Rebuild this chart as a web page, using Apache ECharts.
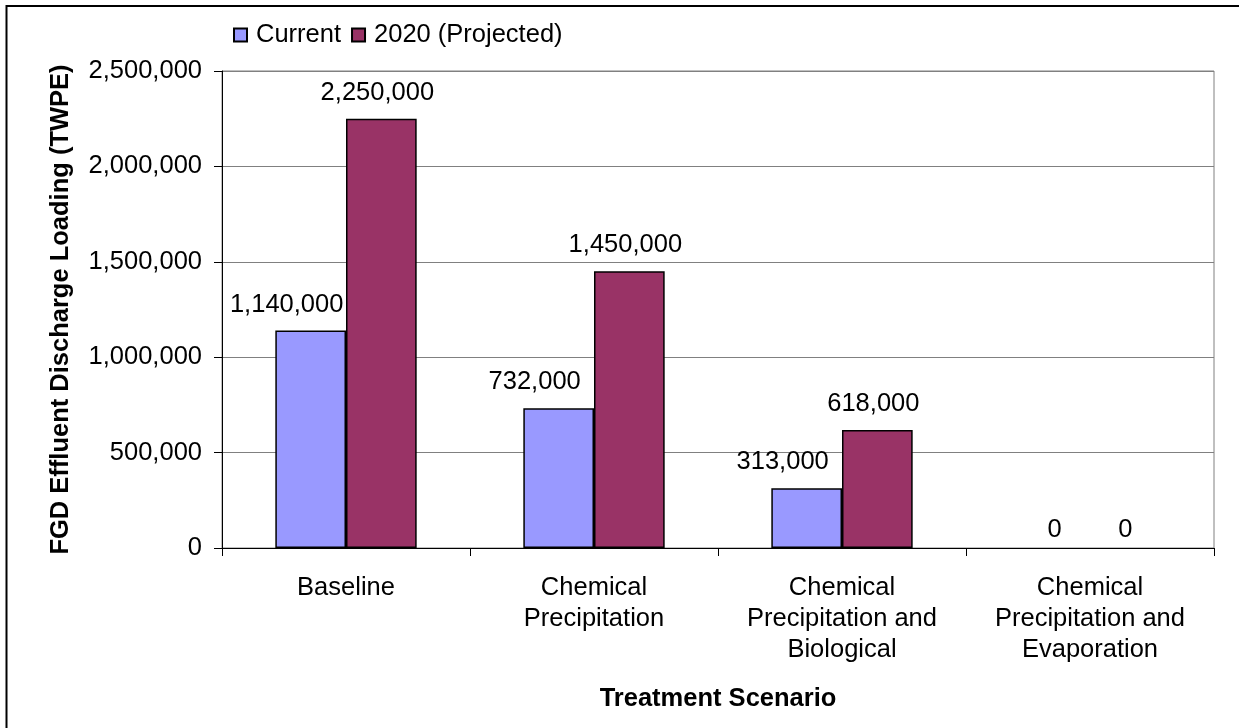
<!DOCTYPE html>
<html>
<head>
<meta charset="utf-8">
<script src="https://cdn.jsdelivr.net/npm/echarts@6/dist/echarts.min.js"></script>
<style>
html,body{margin:0;padding:0;background:#fff;}
#chart{width:1239px;height:728px;}
</style>
</head>
<body>
<div id="chart"></div>
<script>
const categories = ['Baseline', 'Chemical\nPrecipitation', 'Chemical\nPrecipitation and\nBiological', 'Chemical\nPrecipitation and\nEvaporation'];
const seriesNames = ['Current', '2020 (Projected)'];
const currentValues = [1140000, 732000, 313000, 0];
const projectedValues = [2250000, 1450000, 618000, 0];
const yTicks = [0, 500000, 1000000, 1500000, 2000000, 2500000];

const FONT = '"Liberation Sans", Arial, sans-serif';
const FS = 25.5;
const fmt = v => Number(v).toLocaleString('en-US');

function items(values, nonZeroOffset) {
  return values.map(v => v > 0
    ? { value: v, label: { offset: nonZeroOffset, distance: 13 } }
    : { value: v, label: { offset: [0, 0], distance: 5 }, itemStyle: { borderWidth: 0 } });
}

const chart = echarts.init(document.getElementById('chart'));
chart.setOption({
  animation: false,
  backgroundColor: '#fff',
  textStyle: { fontFamily: FONT },
  graphic: [{
    type: 'rect',
    shape: { x: 6.5, y: 6, width: 3000, height: 3000 },
    style: { fill: 'none', stroke: '#000', lineWidth: 2 },
    silent: true
  }],
  legend: {
    data: seriesNames,
    left: 228,
    top: 17,
    itemWidth: 13,
    itemHeight: 13,
    itemGap: 10,
    textStyle: { fontFamily: FONT, fontSize: FS, color: '#000', padding: [0, 0, 0, 4] },
    icon: 'rect'
  },
  grid: {
    left: 222, right: 25, top: 71, bottom: 180,
    show: true, borderColor: '#808080', borderWidth: 1
  },
  xAxis: {
    type: 'category',
    data: categories,
    name: 'Treatment Scenario',
    nameLocation: 'middle',
    nameGap: 138,
    nameTextStyle: { fontFamily: FONT, fontSize: 25.5, fontWeight: 'bold', color: '#000' },
    axisLine: { lineStyle: { color: '#000', width: 1 } },
    axisTick: { show: true, length: 8, lineStyle: { color: '#000' } },
    axisLabel: { fontFamily: FONT, fontSize: FS, color: '#000', lineHeight: 31, margin: 24, interval: 0 },
    splitLine: { show: false }
  },
  yAxis: {
    type: 'value',
    min: yTicks[0],
    max: yTicks[yTicks.length - 1],
    interval: yTicks[1] - yTicks[0],
    name: 'FGD Effluent Discharge Loading (TWPE)',
    nameLocation: 'middle',
    nameGap: 148,
    nameRotate: 90,
    nameTextStyle: { fontFamily: FONT, fontSize: 25.5, fontWeight: 'bold', color: '#000' },
    axisLine: { show: true, lineStyle: { color: '#000', width: 1 } },
    axisTick: { show: true, length: 8, lineStyle: { color: '#000' } },
    axisLabel: { fontFamily: FONT, fontSize: FS, color: '#000', margin: 20, formatter: v => fmt(v) },
    splitLine: { show: true, lineStyle: { color: '#808080', width: 1 } }
  },
  series: [
    {
      name: seriesNames[0],
      type: 'bar',
      data: items(currentValues, [-24, 0]),
      barGap: '0%',
      barCategoryGap: '43%',
      itemStyle: { color: '#9999FF', borderColor: '#000', borderWidth: 1.5 },
      label: { show: true, position: 'top', fontFamily: FONT, fontSize: FS, color: '#000', formatter: p => fmt(p.value) }
    },
    {
      name: seriesNames[1],
      type: 'bar',
      data: items(projectedValues, [-4, 0]),
      barGap: '0%',
      barCategoryGap: '43%',
      itemStyle: { color: '#993366', borderColor: '#000', borderWidth: 1.5 },
      label: { show: true, position: 'top', fontFamily: FONT, fontSize: FS, color: '#000', formatter: p => fmt(p.value) }
    }
  ]
});
</script>
</body>
</html>
